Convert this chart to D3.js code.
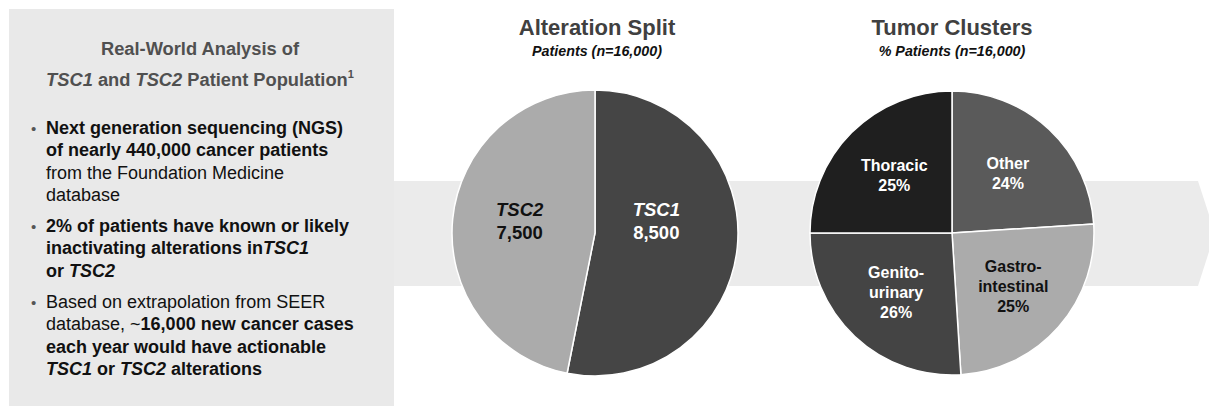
<!DOCTYPE html>
<html><head><meta charset="utf-8">
<script src="https://cdn.jsdelivr.net/npm/d3@7"></script>
<style>body{margin:0;background:#fff}svg{display:block;font-family:"Liberation Sans",Arial,sans-serif}</style>
</head><body><svg id="c" width="1209" height="406"></svg>
<script>
// Data
const alterationCategories = ["TSC1", "TSC2"];
const alterationValues = [8500, 7500];
const alterationLabels = ["8,500", "7,500"];
const clusterCategories = ["Other", "Gastro-intestinal", "Genito-urinary", "Thoracic"];
const clusterLabelLines = [["Other"], ["Gastro-", "intestinal"], ["Genito-", "urinary"], ["Thoracic"]];
const clusterValues = [24, 25, 26, 25];
const leftTitle = [
  [["Real-World Analysis of", "b"]],
  [["TSC1", "bi"], [" and ", "b"], ["TSC2", "bi"], [" Patient Population", "b"], ["1", "sup"]]
];
const bullets = [
  [[["Next generation sequencing (NGS)", "b"]], [["of nearly 440,000 cancer patients", "b"]], [["from the Foundation Medicine", "r"]], [["database", "r"]]],
  [[["2% of patients have known or likely", "b"]], [["inactivating alterations in", "b"], ["TSC1", "bi"]], [["or ", "b"], ["TSC2", "bi"]]],
  [[["Based on extrapolation from SEER", "r"]], [["database, ~", "r"], ["16,000 new cancer cases", "b"]], [["each year would have actionable", "b"]], [["TSC1", "bi"], [" or ", "b"], ["TSC2", "bi"], [" alterations", "b"]]]
];

const svg = d3.select("#c");

// Background arrow band
svg.append("path")
  .attr("d", "M394,181 L1198,181 L1215,233 L1198,286 L394,286 Z")
  .attr("fill", "#ebebeb");
// Left panel
svg.append("rect").attr("x", 9).attr("y", 9).attr("width", 385).attr("height", 400).attr("fill", "#e9e9e9");

function addSegs(t, segs) {
  segs.forEach(([s, st]) => {
    const ts = t.append("tspan").text(s);
    if (st.includes("b")) ts.attr("font-weight", "bold");
    if (st.includes("i")) ts.attr("font-style", "italic");
    if (st === "sup") ts.attr("font-weight", "bold").attr("font-size", "11px").attr("dy", -8);
  });
}

// Left title
leftTitle.forEach((segs, i) => {
  const t = svg.append("text").attr("x", 200).attr("y", 55 + i * 31)
    .attr("text-anchor", "middle").attr("font-size", "18.3px").attr("fill", "#505050");
  addSegs(t, segs);
});

// Bullets
const bulletStarts = [134, 232, 308];
const lh = 22.3;
bullets.forEach((lines, bi) => {
  svg.append("text").attr("x", 31).attr("y", bulletStarts[bi]).attr("font-size", "15px").attr("fill", "#555").text("•");
  lines.forEach((segs, li) => {
    const t = svg.append("text").attr("x", 46).attr("y", bulletStarts[bi] + li * lh)
      .attr("font-size", "18px").attr("fill", "#111");
    addSegs(t, segs);
  });
});

// Pie helpers
function titleBlock(cx, title, sub) {
  svg.append("text").attr("x", cx).attr("y", 35).attr("text-anchor", "middle")
    .attr("font-size", "22px").attr("font-weight", "bold").attr("fill", "#404040").text(title);
  svg.append("text").attr("x", cx).attr("y", 55.5).attr("text-anchor", "middle")
    .attr("font-size", "14.3px").attr("font-weight", "bold").attr("font-style", "italic").attr("fill", "#111").text(sub);
}

// Pie 1
{
  const cx = 595, cy = 233, r = 143;
  titleBlock(cx + 2, "Alteration Split", "Patients (n=16,000)");
  const colors = d3.scaleOrdinal().domain(alterationCategories).range(["#454545", "#ababab"]);
  const textCol = d3.scaleOrdinal().domain(alterationCategories).range(["#ffffff", "#111111"]);
  const arcs = d3.pie().sort(null).value(d => d.v)(alterationCategories.map((c, i) => ({c, v: alterationValues[i], l: alterationLabels[i]})));
  const arc = d3.arc().innerRadius(0).outerRadius(r);
  const lab = d3.arc().innerRadius(0).outerRadius(r * 0.96);
  const g = svg.append("g").attr("transform", `translate(${cx},${cy})`);
  g.selectAll("path").data(arcs).join("path").attr("d", arc)
    .attr("fill", d => colors(d.data.c)).attr("stroke", "#fff").attr("stroke-width", 1.5);
  arcs.forEach(d => {
    const [x0] = lab.centroid(d);
    const x = x0 - 7;
    const t = g.append("text").attr("text-anchor", "middle")
      .attr("font-size", "18.5px").attr("font-weight", "bold").attr("fill", textCol(d.data.c));
    t.append("tspan").attr("x", x).attr("y", -17).attr("font-style", "italic").text(d.data.c);
    t.append("tspan").attr("x", x).attr("y", 6).text(d.data.l);
  });
}

// Pie 2
{
  const cx = 952, cy = 233, r = 142;
  titleBlock(cx, "Tumor Clusters", "% Patients (n=16,000)");
  const colors = d3.scaleOrdinal().domain(clusterCategories).range(["#5a5a5a", "#ababab", "#444444", "#1f1f1f"]);
  const textCol = d3.scaleOrdinal().domain(clusterCategories).range(["#fff", "#111", "#fff", "#fff"]);
  const arcs = d3.pie().sort(null).value(d => d.v)(clusterCategories.map((c, i) => ({c, v: clusterValues[i], lines: clusterLabelLines[i]})));
  const arc = d3.arc().innerRadius(0).outerRadius(r);
  const lab = d3.arc().innerRadius(0).outerRadius(r * 1.15);
  const g = svg.append("g").attr("transform", `translate(${cx},${cy})`);
  g.selectAll("path").data(arcs).join("path").attr("d", arc)
    .attr("fill", d => colors(d.data.c)).attr("stroke", "#fff").attr("stroke-width", 1.5);
  arcs.forEach(d => {
    const [x, y] = lab.centroid(d);
    const lines = d.data.lines.concat([d.data.v + "%"]);
    const lh2 = 20;
    const y0 = y - (lines.length - 1) * lh2 / 2 + 5.5;
    const t = g.append("text").attr("text-anchor", "middle")
      .attr("font-size", "16px").attr("font-weight", "bold").attr("fill", textCol(d.data.c));
    lines.forEach((s, i) => t.append("tspan").attr("x", x).attr("y", y0 + i * lh2).text(s));
  });
}
</script></body></html>
